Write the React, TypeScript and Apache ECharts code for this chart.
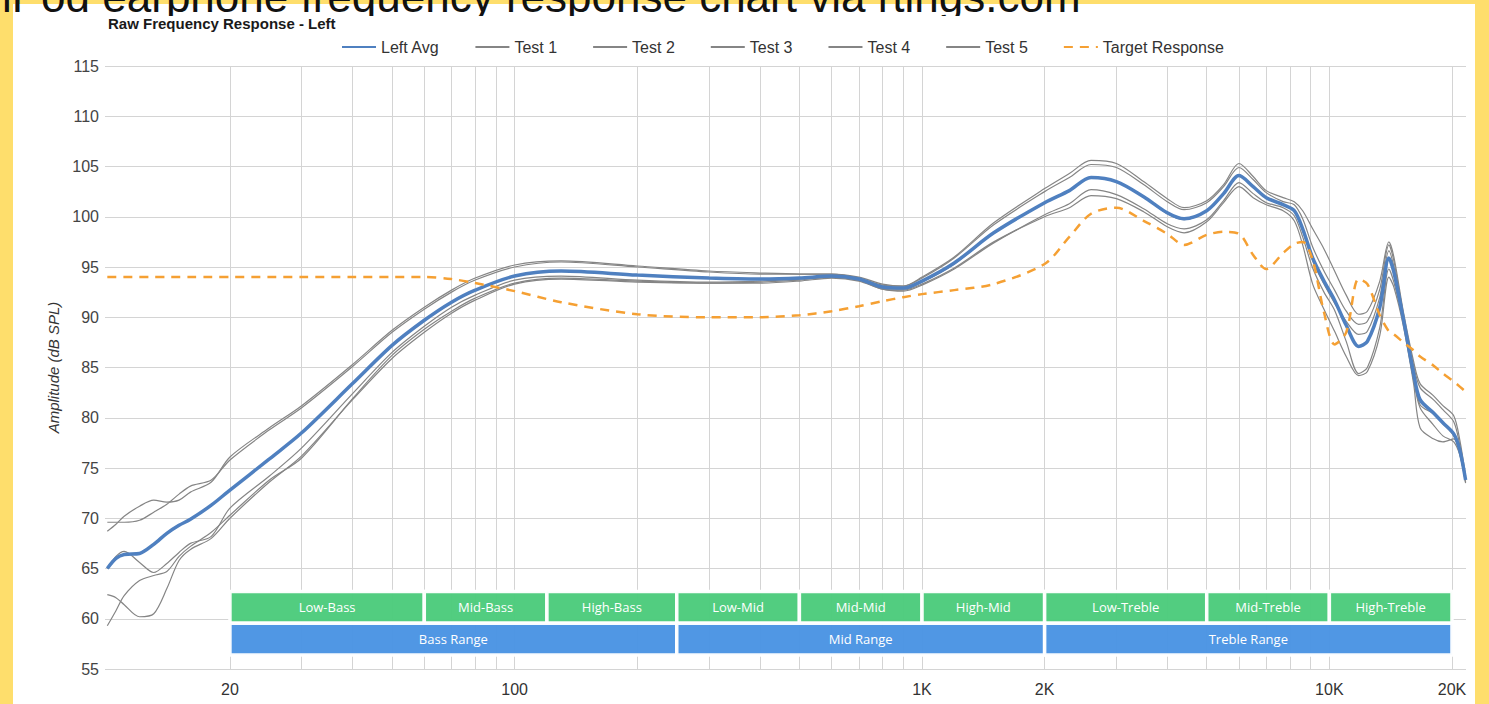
import { useEffect, useRef } from 'react';
import * as echarts from 'echarts';

const FREQ = [
  10, 10.5, 11, 12, 13, 14, 15, 16, 18, 20,
  25, 30, 40, 50, 60, 70, 80, 100, 130, 200,
  300, 400, 500, 600, 700, 800, 900, 1000, 1200, 1500,
  2000, 2300, 2600, 3000, 3500, 4000, 4400, 5000, 5500, 6000,
  6500, 7000, 7700, 8200, 8600, 9100, 9700, 10300, 11000, 11800,
  12400, 13300, 14000, 14400, 15200, 16100, 16700, 18000, 19000, 20200,
  20900, 21600,
];

const LEFT_AVG = [
  65.0, 66.0, 66.4, 66.5, 67.4, 68.5, 69.3, 69.9, 71.3, 72.8,
  75.9, 78.5, 83.4, 87.2, 89.7, 91.5, 92.7, 94.1, 94.6, 94.2,
  93.9, 93.8, 93.9, 94.1, 93.8, 93.0, 92.9, 93.6, 95.4, 98.4,
  101.4, 102.6, 103.9, 103.5, 102.0, 100.4, 99.8, 100.6, 102.3, 104.1,
  103.0, 101.9, 101.2, 100.6, 98.8, 95.9, 93.6, 91.7, 89.2, 87.1,
  87.6, 91.0, 95.9, 94.5, 89.8, 84.4, 81.8, 80.5, 79.5, 78.4,
  76.8, 73.8,
];

const TEST_1 = [
  68.7, 69.4, 70.2, 71.2, 71.8, 71.6, 71.8, 72.6, 73.6, 76.1,
  79.0, 81.2, 85.3, 88.7, 91.0, 92.7, 93.9, 95.2, 95.6, 95.1,
  94.6, 94.4, 94.3, 94.3, 94.0, 93.3, 93.1, 94.0, 96.0, 99.4,
  102.8, 104.3, 105.6, 105.3, 103.5, 101.8, 100.9, 101.6, 103.2, 105.3,
  104.0, 102.6, 101.9, 101.5, 100.6, 98.8, 96.8, 94.6, 92.2, 90.3,
  90.6, 93.6, 97.5, 96.0, 90.5, 85.6, 83.4, 82.2, 81.2, 80.2,
  77.8, 74.2,
];

const TEST_2 = [
  69.6, 69.6, 69.6, 69.8, 70.6, 71.4, 72.4, 73.2, 73.8, 75.8,
  78.8, 81.0, 85.1, 88.5, 90.8, 92.5, 93.7, 95.0, 95.5, 95.0,
  94.5, 94.3, 94.3, 94.3, 93.9, 93.2, 93.1, 93.9, 95.9, 99.2,
  102.5, 103.9, 105.2, 104.9, 103.2, 101.5, 100.7, 101.4, 103.0, 104.9,
  103.7, 102.4, 101.5, 101.2, 99.8, 97.0, 94.6, 92.7, 90.6, 89.3,
  89.6, 92.8, 97.2, 95.6, 90.2, 85.2, 83.0, 81.8, 80.8, 79.6,
  77.3, 74.0,
];

const TEST_3 = [
  65.0, 66.2, 66.7, 65.6, 64.6, 65.5, 66.6, 67.5, 68.2, 71.0,
  74.2, 77.0, 82.4, 86.5, 89.1, 91.0, 92.2, 93.7, 94.1, 93.7,
  93.5, 93.6, 93.8, 94.0, 93.7, 92.9, 92.8, 93.5, 95.3, 98.4,
  101.4, 102.6, 103.9, 103.5, 102.0, 100.3, 99.7, 100.6, 102.3, 104.2,
  103.0, 101.9, 101.2, 100.6, 98.6, 95.6, 93.3, 91.4, 89.6, 88.3,
  88.6, 92.0, 96.6, 95.0, 89.8, 84.2, 81.3, 80.4, 79.4, 78.2,
  76.6, 73.8,
];

const TEST_4 = [
  62.4, 62.1, 61.4, 60.2, 60.5, 63.0, 65.8, 66.9, 68.0, 70.0,
  73.6, 76.2, 81.8, 85.9, 88.5, 90.4, 91.7, 93.3, 93.8, 93.5,
  93.4, 93.4, 93.6, 93.9, 93.6, 92.8, 92.6, 93.2, 94.8, 97.4,
  100.2, 101.3, 102.7, 102.2, 100.8, 99.3, 98.8, 99.7, 101.6, 103.4,
  102.3, 101.4, 100.9, 100.1, 98.0, 94.9, 92.5, 90.7, 87.6, 84.4,
  85.0, 89.0, 94.8, 93.5, 89.4, 83.8, 81.0, 79.3, 78.2, 77.6,
  76.3, 73.6,
];

const TEST_5 = [
  59.3, 60.8, 62.3, 63.8, 64.3, 64.7, 66.2, 67.2, 68.6, 70.3,
  73.8, 76.0, 81.9, 86.2, 88.8, 90.6, 91.9, 93.4, 93.9, 93.6,
  93.4, 93.5, 93.7, 94.0, 93.7, 92.8, 92.7, 93.3, 94.9, 97.5,
  100.0, 100.9, 102.1, 101.8, 100.5, 99.0, 98.4, 99.5, 101.4, 103.0,
  101.9, 101.2, 100.6, 99.6, 97.2, 93.3, 90.8, 88.6, 86.1, 84.2,
  84.6, 88.2, 94.0, 93.0, 89.1, 83.4, 79.0, 77.9, 77.6, 77.9,
  76.4, 73.5,
];

const TARGET = [
  94.0, 94.0, 94.0, 94.0, 94.0, 94.0, 94.0, 94.0, 94.0, 94.0,
  94.0, 94.0, 94.0, 94.0, 94.0, 93.8, 93.4, 92.6, 91.5, 90.3,
  90.0, 90.0, 90.2, 90.6, 91.1, 91.6, 92.0, 92.3, 92.7, 93.3,
  95.3, 98.0, 100.3, 100.9, 99.6, 98.3, 97.2, 98.2, 98.5, 98.3,
  96.2, 94.8, 96.4, 97.3, 97.5, 95.7, 90.5, 87.3, 88.5, 93.8,
  93.3, 90.2, 88.6, 88.3, 87.5, 86.7, 86.1, 85.2, 84.4, 83.6,
  83.1, 82.6,
];

const X_LABEL_VALUES = [20, 100, 1000, 2000, 10000, 20000];
const X_GRID_VALUES = [
  20, 30, 40, 50, 60, 70, 80, 90,
  100, 200, 300, 400, 500, 600, 700, 800, 900,
  1000, 2000, 3000, 4000, 5000, 6000, 7000, 8000, 9000,
  10000, 20000,
];

const SUB_RANGES = [
  { name: 'Low-Bass', from: 20, to: 60 },
  { name: 'Mid-Bass', from: 60, to: 120 },
  { name: 'High-Bass', from: 120, to: 250 },
  { name: 'Low-Mid', from: 250, to: 500 },
  { name: 'Mid-Mid', from: 500, to: 1000 },
  { name: 'High-Mid', from: 1000, to: 2000 },
  { name: 'Low-Treble', from: 2000, to: 5000 },
  { name: 'Mid-Treble', from: 5000, to: 10000 },
  { name: 'High-Treble', from: 10000, to: 20000 },
];

const MAIN_RANGES = [
  { name: 'Bass Range', from: 20, to: 250 },
  { name: 'Mid Range', from: 250, to: 2000 },
  { name: 'Treble Range', from: 2000, to: 20000 },
];

const TEST_SERIES = [
  { name: 'Test 1', values: TEST_1 },
  { name: 'Test 2', values: TEST_2 },
  { name: 'Test 3', values: TEST_3 },
  { name: 'Test 4', values: TEST_4 },
  { name: 'Test 5', values: TEST_5 },
];

const LEGEND_ORDER = ['Left Avg', 'Test 1', 'Test 2', 'Test 3', 'Test 4', 'Test 5', 'Target Response'];

const pairs = (vals: number[]) => FREQ.map((f, i) => [f, vals[i]]);

export default function App() {
  const ref = useRef<HTMLDivElement>(null);

  useEffect(() => {
    if (!ref.current) return;
    const chart = echarts.init(ref.current, null, { renderer: 'svg' });

    const fmt = (v: number) => (v >= 1000 ? `${v / 1000}K` : `${v}`);

    const bandArea = (list: { name: string; from: number; to: number }[], top: number, bottom: number, color: string) =>
      list.map((r) => [
        { name: r.name, xAxis: r.from, yAxis: top, itemStyle: { color } },
        { xAxis: r.to, yAxis: bottom },
      ]);

    const option: any = {
      animation: false,
      textStyle: { fontFamily: 'Liberation Sans' },
      title: {
        text: 'Raw Frequency Response - Left',
        left: 103,
        top: 11,
        z: 20,
        textStyle: { fontSize: 15, fontWeight: 'bold', color: '#1a1a1a', fontFamily: 'Liberation Sans' },
      },
      legend: {
        left: 336,
        top: 34,
        itemWidth: 34,
        itemHeight: 14,
        itemGap: 35,
        data: LEGEND_ORDER,
        itemStyle: { opacity: 0 },
        textStyle: { fontSize: 16, color: '#333', fontFamily: 'Liberation Sans' },
      },
      graphic: [
        {
          type: 'text',
          x: 2,
          y: -4,
          z: 3,
          silent: true,
          style: {
            text: 'iPod earphone frequency response chart via rtings.com',
            fontSize: 44,
            fontFamily: 'Liberation Sans',
            fill: '#111',
            verticalAlign: 'middle',
          },
        },
        {
          type: 'rect',
          z: 4,
          silent: true,
          shape: { x: 13, y: 16, width: 1120, height: 16 },
          style: { fill: '#ffffff' },
        },
      ],
      grid: { left: 105, right: 23, top: 66, bottom: 35 },
      xAxis: {
        type: 'log',
        logBase: 10,
        min: 9.87,
        max: 21650,
        axisLine: { show: false },
        axisTick: { show: false, customValues: X_GRID_VALUES },
        axisLabel: {
          customValues: X_LABEL_VALUES,
          formatter: fmt,
          fontSize: 16,
          color: '#333',
          margin: 12,
        },
        splitLine: { show: true, lineStyle: { color: '#d4d4d4', width: 1 } },
      },
      yAxis: {
        type: 'value',
        min: 55,
        max: 115,
        interval: 5,
        name: 'Amplitude (dB SPL)',
        nameLocation: 'middle',
        nameGap: 38,
        nameRotate: 90,
        nameTextStyle: { fontStyle: 'italic', fontSize: 15, color: '#333', fontFamily: 'Liberation Sans' },
        axisLine: { show: false },
        axisTick: { show: false },
        axisLabel: { fontSize: 16, color: '#444', margin: 6 },
        splitLine: { lineStyle: { color: '#d4d4d4', width: 1 } },
      },
      series: [
        {
          name: 'bands',
          type: 'line',
          data: [],
          silent: true,
          markArea: {
            silent: true,
            data: [
              ...bandArea(SUB_RANGES, 62.7, 59.55, '#4CCB7C'),
              ...bandArea(MAIN_RANGES, 59.55, 56.4, '#4A94E3'),
            ],
            itemStyle: { borderColor: '#ffffff', borderWidth: 3.5, opacity: 0.97 },
            label: {
              show: true,
              position: 'inside',
              color: '#ffffff',
              fontSize: 13,
              fontFamily: 'Open Sans',
            },
          },
        },
        ...TEST_SERIES.map((t) => ({
          name: t.name,
          type: 'line',
          data: pairs(t.values),
          symbol: 'none',
          smooth: 0.3,
          color: '#8a8a8a',
          lineStyle: { color: '#858585', width: 1.2 },
        })),
        {
          name: 'Left Avg',
          type: 'line',
          data: pairs(LEFT_AVG),
          symbol: 'none',
          smooth: 0.3,
          color: '#4F80C0',
          lineStyle: { color: '#4F80C0', width: 3.5 },
        },
        {
          name: 'Target Response',
          type: 'line',
          data: pairs(TARGET),
          symbol: 'none',
          smooth: 0.3,
          color: '#F5A033',
          lineStyle: { color: '#F5A033', width: 2.5, type: [9, 7] },
        },
      ],
    };

    chart.setOption(option);
    return () => chart.dispose();
  }, []);

  return (
    <div style={{ position: 'fixed', left: 0, top: 0, width: 1489, height: 704, background: '#FEDE6C' }}>
      <div style={{ position: 'absolute', left: 13, top: 4, width: 1462, height: 700, background: '#ffffff' }} />
      <div ref={ref} style={{ position: 'absolute', left: 0, top: 0, width: 1489, height: 704 }} />
    </div>
  );
}
